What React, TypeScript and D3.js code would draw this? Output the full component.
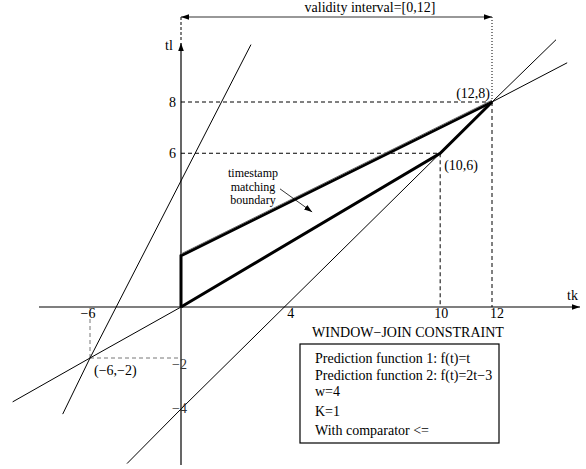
import React from 'react';
import * as d3 from 'd3';

// tick labels on each axis
const xTicks = [-6, 4, 10, 12];
const yTicks = [-4, -2, 6, 8];

// thin lines of the diagram (data coordinates)
const steepLine = [[-7.8, -4.2], [-6, -2], [2.7, 10.24]];
const shallowLine = [[-11.1, -3.72], [-6, -2], [0, 0]];
const shallowExt = [[12, 8], [14.9, 9.53]];
const windowLine = [[-3.56, -6.14], [0, -4], [10, 6], [12, 8], [14.47, 10.43]];

// thick boundary of the region
const lowerEdge = [[0, 0], [10, 6], [12, 8]];
const upperEdge = [[0, 0], [0, 2], [12, 8]];

// dashed guides
const guides = [
  [[0, 8], [12, 8]],
  [[0, 6], [10, 6]],
  [[10, 6], [10, 0]],
  [[12, 8], [12, 0]],
];
const negGuides = [
  [[-6, -2], [0, -2]],
  [[-6, -2], [-6, 0]],
];

const points = [
  { label: '(−6,−2)', x: -6, y: -2 },
  { label: '(10,6)', x: 10, y: 6 },
  { label: '(12,8)', x: 12, y: 8 },
];

const validity = [0, 12];
const validityLabel = 'validity interval=[0,12]';
const boxTitle = 'WINDOW−JOIN CONSTRAINT';
const boxLines = [
  'Prediction function 1: f(t)=t',
  'Prediction function 2: f(t)=2t−3',
  'w=4',
  'K=1',
  'With comparator <=',
];
const boundaryLabel = ['timestamp', 'matching', 'boundary'];

const App = () => {
  const width = 586;
  const height = 469;

  const x = d3.scaleLinear().domain([-6, 0, 12]).range([90, 181, 492]);
  const y = d3.scaleLinear().domain([-4, 0, 8]).range([409, 307, 102]);

  const line = d3.line<number[]>().x(d => x(d[0])).y(d => y(d[1]));

  const topY = 17;
  const boxLineY = [363, 380, 396, 416, 435];

  return (
    <svg
      width={width}
      height={height}
      style={{
        position: 'absolute', left: 0, top: 0, background: '#fff',
        fontFamily: "'Liberation Serif', 'Times New Roman', Times, 'DejaVu Serif', serif",
        fontSize: 14,
      }}
    >
      <defs>
        <marker id="arr" viewBox="0 0 10 10" refX="10" refY="5" markerWidth="8" markerHeight="8" markerUnits="userSpaceOnUse" orient="auto">
          <path d="M0,1.5 L10,5 L0,8.5 Z" fill="#000" />
        </marker>
        <marker id="arrStart" viewBox="0 0 10 10" refX="0" refY="5" markerWidth="8" markerHeight="8" markerUnits="userSpaceOnUse" orient="auto">
          <path d="M10,1.5 L0,5 L10,8.5 Z" fill="#000" />
        </marker>
      </defs>

      {/* axes */}
      <line x1={39} y1={y(0)} x2={580} y2={y(0)} stroke="#000" strokeWidth={1.2} markerEnd="url(#arr)" />
      <line x1={x(0)} y1={465} x2={x(0)} y2={43} stroke="#000" strokeWidth={1.2} markerEnd="url(#arr)" />
      <text x={567} y={300}>tk</text>
      <text x={165} y={50}>tl</text>

      {/* validity interval */}
      <line x1={x(0)} y1={topY} x2={x(0)} y2={40} stroke="#000" strokeDasharray="3,2" />
      <line x1={x(12)} y1={topY} x2={x(12)} y2={y(8)} stroke="#000" strokeDasharray="1,2" />
      <line x1={x(validity[0])} y1={topY} x2={x(validity[1])} y2={topY} stroke="#333" strokeWidth={1.2}
        markerStart="url(#arrStart)" markerEnd="url(#arr)" />
      <text x={370} y={12} textAnchor="middle">{validityLabel}</text>

      {/* dashed guides */}
      {guides.map((g, i) => (
        <path key={i} d={line(g) || ''} fill="none" stroke="#000" strokeDasharray="4,3" />
      ))}
      {negGuides.map((g, i) => (
        <path key={i} d={line(g) || ''} fill="none" stroke="#777" strokeDasharray="4,3" />
      ))}

      {/* thin lines */}
      {[steepLine, shallowLine, shallowExt, windowLine].map((l, i) => (
        <path key={i} d={line(l) || ''} fill="none" stroke="#000" strokeWidth={1} />
      ))}

      {/* boundary */}
      <path d={line(lowerEdge) || ''} fill="none" stroke="#000" strokeWidth={3} strokeLinejoin="miter" />
      <path d={line(upperEdge) || ''} fill="none" stroke="#000" strokeWidth={3} strokeLinejoin="miter" />
      <path d={line(upperEdge.slice(1)) || ''} fill="none" stroke="#666" strokeWidth={1}
        transform="translate(0,-1.8)" />

      {/* tick labels */}
      {xTicks.map(t => (
        <text key={t} x={x(t) + (t === 4 ? 6 : t === 12 ? 5 : t === -6 ? -2 : 1)} y={318} textAnchor="middle">
          {t < 0 ? `−${-t}` : t}
        </text>
      ))}
      {yTicks.map(t => (
        <text key={t} x={t < 0 ? x(0) + 6 : x(0) - 5} y={y(t) + (t < 0 ? (t === -2 ? 11 : 4) : 5)} textAnchor="end"
          fill={t < 0 ? '#333' : '#000'}>
          {t < 0 ? `−${-t}` : t}
        </text>
      ))}

      {/* point labels */}
      {points.map(p => (
        <text key={p.label}
          x={p.x === 12 ? x(p.x) - 2 : x(p.x) + 4}
          y={p.x === 12 ? y(p.y) - 4 : y(p.y) + 17}
          textAnchor={p.x === 12 ? 'end' : 'start'}>
          {p.label}
        </text>
      ))}

      {/* boundary annotation */}
      {boundaryLabel.map((s, i) => (
        <text key={s} x={253} y={177 + i * 13.5} textAnchor="middle" fontSize={12}>{s}</text>
      ))}
      <line x1={x(3.82)} y1={y(4.61)} x2={x(5.06)} y2={y(3.71)} stroke="#000" strokeWidth={0.8} markerEnd="url(#arr)" />

      {/* constraint box */}
      <text x={408} y={337} textAnchor="middle">{boxTitle}</text>
      <rect x={300} y={344} width={199} height={99} fill="none" stroke="#000" strokeWidth={1.2} />
      {boxLines.map((s, i) => (
        <text key={s} x={315} y={boxLineY[i]}>{s}</text>
      ))}
    </svg>
  );
};

export default App;
